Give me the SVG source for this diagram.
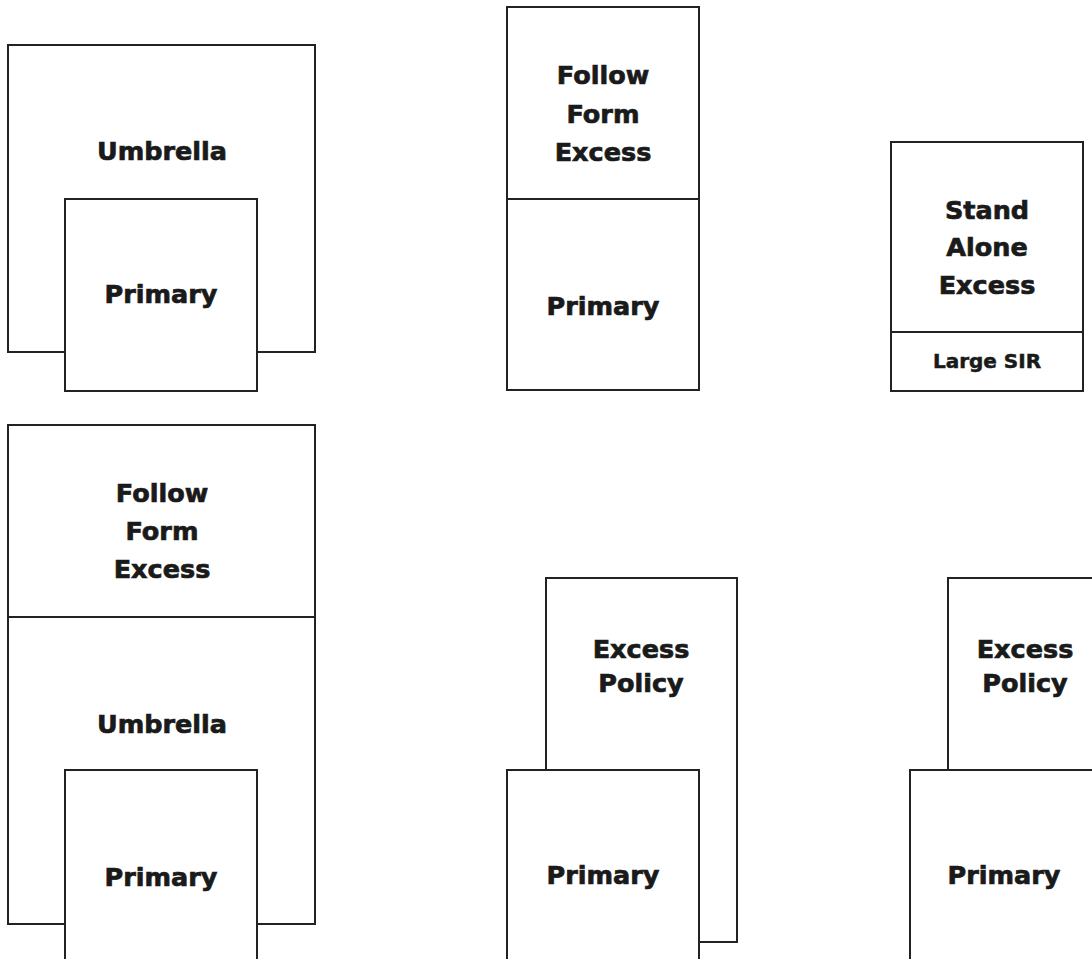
<svg xmlns="http://www.w3.org/2000/svg" width="1092" height="959" viewBox="0 0 1092 959">
<style>
.box{fill:#fff;stroke:#222;stroke-width:2}
text{font-family:"DejaVu Sans","Liberation Sans",sans-serif;font-weight:bold;font-size:25.5px;fill:#1a1a1a;stroke:#1a1a1a;stroke-width:0.7;text-anchor:middle}
.sm{font-size:20px;stroke-width:0.5}
</style>
<rect width="1092" height="959" fill="#fff"/>
<g id="group1">
<g id="umbrella1"><rect class="box" x="8" y="45" width="307" height="307"/><text x="162" y="160">Umbrella</text></g>
<g id="primary1"><rect class="box" x="65" y="199" width="192" height="192"/><text x="161" y="303">Primary</text></g>
</g>
<g id="group2">
<g id="ffexcess2"><rect class="box" x="507" y="7" width="192" height="192"/><text x="603" y="84">Follow</text><text x="603" y="123">Form</text><text x="603" y="161">Excess</text></g>
<g id="primary2"><rect class="box" x="507" y="199" width="192" height="191"/><text x="603" y="315">Primary</text></g>
</g>
<g id="group3">
<g id="standalone"><rect class="box" x="891" y="142" width="192" height="190"/><text x="987" y="219">Stand</text><text x="987" y="256">Alone</text><text x="987" y="294">Excess</text></g>
<g id="largesir"><rect class="box" x="891" y="332" width="192" height="59"/><text class="sm" x="987" y="368">Large SIR</text></g>
</g>
<g id="group4">
<g id="ffexcess4"><rect class="box" x="8" y="425" width="307" height="192"/><text x="162" y="502">Follow</text><text x="162" y="540">Form</text><text x="162" y="578">Excess</text></g>
<g id="umbrella4"><rect class="box" x="8" y="617" width="307" height="307"/><text x="162" y="733">Umbrella</text></g>
<g id="primary4"><rect class="box" x="65" y="770" width="192" height="200"/><text x="161" y="886">Primary</text></g>
</g>
<g id="group5">
<g id="excess5"><rect class="box" x="546" y="578" width="191" height="364"/><text x="641" y="658">Excess</text><text x="641" y="692">Policy</text></g>
<g id="primary5"><rect class="box" x="507" y="770" width="192" height="200"/><text x="603" y="884">Primary</text></g>
</g>
<g id="group6">
<g id="excess6"><rect class="box" x="948" y="578" width="191" height="364"/><text x="1025" y="658">Excess</text><text x="1025" y="692">Policy</text></g>
<g id="primary6"><rect class="box" x="910" y="770" width="192" height="200"/><text x="1004" y="884">Primary</text></g>
</g>
<g id="connectors"></g>
</svg>
